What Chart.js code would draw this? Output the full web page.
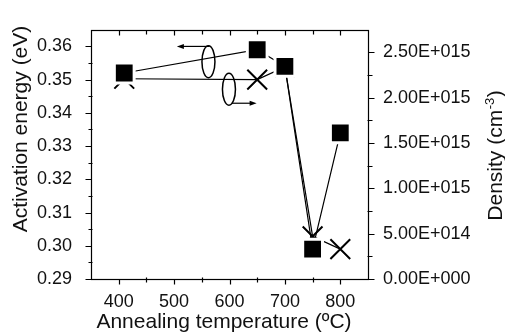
<!DOCTYPE html>
<html><head><meta charset="utf-8">
<script src="https://cdn.jsdelivr.net/npm/chart.js@4.4.1/dist/chart.umd.min.js"></script>
<style>html,body{margin:0;padding:0;background:#fff;}canvas{display:block;}</style>
</head><body>
<canvas id="c" width="505" height="333"></canvas>
<script>
// ---- data ----
const temperatures = [410, 650, 700, 750, 800];
const activationEnergy = [0.352, 0.359, 0.354, 0.299, 0.334];
const densityTemps = [410, 650, 700, 750, 800];
const density = [2.21e15, 2.20e15, 2.34e15, 4.7e14, 3.3e14];
const xTicks = [400, 500, 600, 700, 800];
const leftTicks = [0.29, 0.30, 0.31, 0.32, 0.33, 0.34, 0.35, 0.36];
const rightTicks = [0, 5e14, 1e15, 1.5e15, 2e15, 2.5e15];
const xTitle = 'Annealing temperature (ºC)';
const leftTitle = 'Activation energy (eV)';
const rightTitleMain = 'Density (cm';
const rightTitleSup = '-3';
const rightTitleEnd = ')';
// annotation ellipses/arrows (in x / left-axis units)
const ellipseCenters = [{x: 562, y: 0.3554}, {x: 599, y: 0.3471}];
const arrows = [{x1: 564, x2: 505, y: 0.3600}, {x1: 604, x2: 649, y: 0.3429}];

const FONT = '"Liberation Sans", Arial, Helvetica, sans-serif';
const INK = '#111';

function sci(v) {
  if (v === 0) return '0.00E+000';
  const e = Math.floor(Math.log10(v) + 1e-9);
  const m = v / Math.pow(10, e);
  return m.toFixed(2) + 'E+' + String(e).padStart(3, '0');
}
function mids(arr) {
  const out = [];
  for (let i = 0; i < arr.length - 1; i++) out.push((arr[i] + arr[i + 1]) / 2);
  return out;
}

const framePlugin = {
  id: 'frame',
  afterDraw(chart) {
    const c = chart.ctx, a = chart.chartArea;
    const sx = chart.scales.x, sy = chart.scales.y, sr = chart.scales.y1;
    c.save();
    c.strokeStyle = '#000';
    c.lineWidth = 1.2;
    const L = Math.round(a.left) + 0.5, R = Math.round(a.right) + 0.5,
          T = Math.round(a.top) + 0.5, B = Math.round(a.bottom) + 0.5;
    c.strokeRect(L, T, R - L, B - T);
    c.beginPath();
    xTicks.forEach(v => { const p = Math.round(sx.getPixelForValue(v)) + 0.5;
      c.moveTo(p, B); c.lineTo(p, B + 5); c.moveTo(p, T); c.lineTo(p, T + 5); });
    mids(xTicks).forEach(v => {
      const p = Math.round(sx.getPixelForValue(v)) + 0.5;
      c.moveTo(p, B - 2); c.lineTo(p, B + 3); c.moveTo(p, T); c.lineTo(p, T + 4); });
    leftTicks.forEach(v => { const p = Math.round(sy.getPixelForValue(v)) + 0.5;
      c.moveTo(L, p); c.lineTo(L - 6, p); });
    mids(leftTicks).forEach(v => { const p = Math.round(sy.getPixelForValue(v)) + 0.5;
      c.moveTo(L + 1, p); c.lineTo(L - 3, p); });
    rightTicks.forEach(v => { const p = Math.round(sr.getPixelForValue(v)) + 0.5;
      c.moveTo(R, p); c.lineTo(R + 6, p); });
    mids(rightTicks).forEach(v => { const p = Math.round(sr.getPixelForValue(v)) + 0.5;
      c.moveTo(R - 1, p); c.lineTo(R + 4, p); });
    c.stroke();

    // annotations
    c.lineWidth = 1.5;
    ellipseCenters.forEach(e => {
      c.beginPath();
      c.ellipse(sx.getPixelForValue(e.x), sy.getPixelForValue(e.y), 6.5, 16, 0, 0, Math.PI * 2);
      c.stroke();
    });
    c.fillStyle = '#000';
    c.lineWidth = 1.2;
    arrows.forEach(ar => {
      const x1 = sx.getPixelForValue(ar.x1), x2 = sx.getPixelForValue(ar.x2), y = sy.getPixelForValue(ar.y);
      const dir = Math.sign(x2 - x1);
      c.beginPath(); c.moveTo(x1, y); c.lineTo(x2 - dir * 5, y); c.stroke();
      c.beginPath(); c.moveTo(x2, y); c.lineTo(x2 - dir * 7, y - 2.5); c.lineTo(x2 - dir * 7, y + 2.5); c.closePath(); c.fill();
    });

    // titles
    c.fillStyle = INK;
    c.font = '21px ' + FONT;
    c.textBaseline = 'alphabetic';
    c.textAlign = 'center';
    c.fillText(xTitle, 224, 328);
    c.save();
    c.translate(27, 129); c.rotate(-Math.PI / 2);
    c.fillText(leftTitle, 0, 0);
    c.restore();
    c.save();
    c.translate(502, 156); c.rotate(-Math.PI / 2);
    c.textAlign = 'left';
    c.font = '21px ' + FONT; const w1 = c.measureText(rightTitleMain).width, w3 = c.measureText(rightTitleEnd).width;
    c.font = '13px ' + FONT; const w2 = c.measureText(rightTitleSup).width;
    let x0 = -(w1 + w2 + w3) / 2;
    c.font = '21px ' + FONT; c.fillText(rightTitleMain, x0, 0);
    c.font = '13px ' + FONT; c.fillText(rightTitleSup, x0 + w1 + 0.5, -8);
    c.font = '21px ' + FONT; c.fillText(rightTitleEnd, x0 + w1 + w2 + 1, 0);
    c.restore();
    c.restore();
  }
};

const tickFont = {family: FONT, size: 18};
new Chart(document.getElementById('c'), {
  type: 'line',
  data: {
    datasets: [
      {
        label: 'Activation energy',
        data: temperatures.map((t, i) => ({x: t, y: activationEnergy[i]})),
        yAxisID: 'y',
        borderColor: '#000', borderWidth: 1.2, tension: 0,
        pointStyle: 'rect', pointRadius: 14, pointBackgroundColor: '#000',
        pointBorderColor: '#fff', pointBorderWidth: 3
      },
      {
        label: 'Density',
        data: densityTemps.map((t, i) => ({x: t, y: density[i]})),
        yAxisID: 'y1',
        borderColor: '#000', borderWidth: 1.2, tension: 0,
        pointStyle: 'crossRot', pointRadius: 14, pointBorderColor: '#000', pointBorderWidth: 2,
        pointBackgroundColor: '#000'
      }
    ]
  },
  options: {
    animation: false, responsive: false, devicePixelRatio: 1,
    layout: {padding: {top: 12, left: 0, right: 0, bottom: 0}},
    plugins: {legend: {display: false}, tooltip: {enabled: false}},
    scales: {
      x: {
        type: 'linear', min: 350, max: 850, position: 'bottom',
        afterFit: s => { s.height = 54; },
        afterBuildTicks: s => { s.ticks = xTicks.map(v => ({value: v})); },
        grid: {display: false, drawTicks: false}, border: {display: false},
        ticks: {padding: 12, font: tickFont, color: INK, maxRotation: 0, autoSkip: false, callback: v => String(v)}
      },
      y: {
        type: 'linear', min: 0.29, max: 0.365, position: 'left',
        afterFit: s => { s.width = 91; },
        afterBuildTicks: s => { s.ticks = leftTicks.map(v => ({value: v})); },
        grid: {display: false, drawTicks: false}, border: {display: false},
        ticks: {padding: 19, font: tickFont, color: INK, autoSkip: false, callback: v => v.toFixed(2)}
      },
      y1: {
        type: 'linear', min: 0, max: 2.75e15, position: 'right',
        afterFit: s => { s.width = 137; },
        afterBuildTicks: s => { s.ticks = rightTicks.map(v => ({value: v})); },
        grid: {display: false, drawTicks: false}, border: {display: false},
        ticks: {padding: 15, font: tickFont, color: INK, autoSkip: false, callback: v => sci(v)}
      }
    }
  },
  plugins: [framePlugin]
});
</script>
</body></html>
